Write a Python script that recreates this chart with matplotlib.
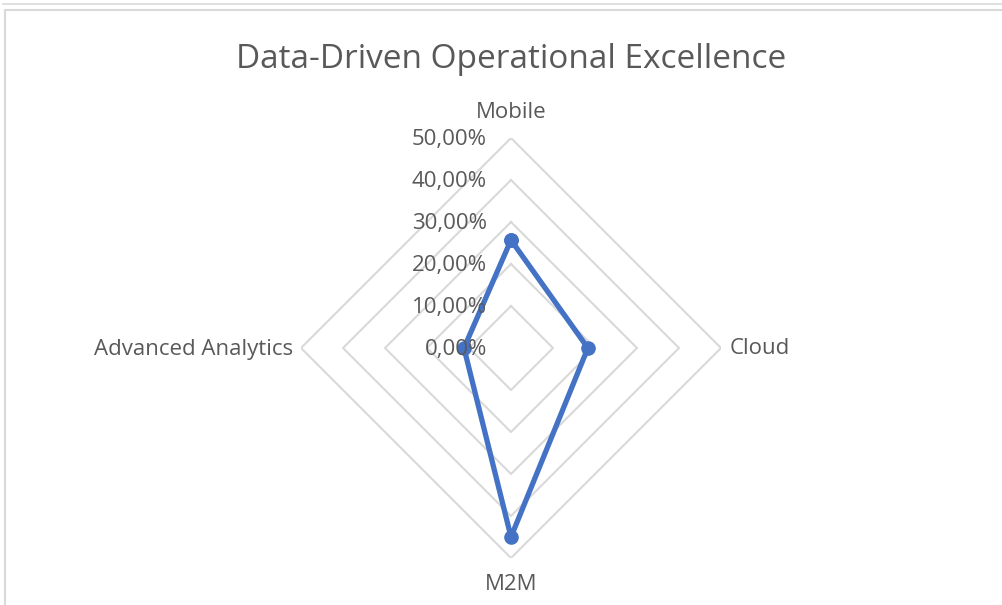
import numpy as np
import matplotlib.pyplot as plt
from matplotlib.patches import Rectangle
from matplotlib.lines import Line2D
import matplotlib.transforms as mtransforms

categories = ["Mobile", "Cloud", "M2M", "Advanced Analytics"]
values = [0.257, 0.183, 0.45, 0.112]
rings = [0.0, 0.1, 0.2, 0.3, 0.4, 0.5]
ring_labels = ["0,00%", "10,00%", "20,00%", "30,00%", "40,00%", "50,00%"]

plt.rcParams['font.family'] = ['Open Sans', 'DejaVu Sans']
text_col = '#595959'
grid_col = '#d9d9d9'
line_col = '#4472C4'

fig = plt.figure(figsize=(10.03, 6.05), dpi=100)
W, H = 1003, 605

# chart area frame
fig.add_artist(Rectangle((5 / W, -0.05), 1.2, 1 - 10 / H + 0.05, transform=fig.transFigure,
                         fill=False, edgecolor=grid_col, linewidth=1.5))
fig.add_artist(Line2D([3 / W, 1.0], [1 - 4 / H, 1 - 4 / H], transform=fig.transFigure,
                      color=grid_col, linewidth=1.2))

cx, cy, R = 511, 348, 210
ax = fig.add_axes([(cx - R) / W, (H - cy - R) / H, 2 * R / W, 2 * R / H], projection='polar')
ax.set_theta_zero_location('N')
ax.set_theta_direction(-1)
ax.set_ylim(0, 0.5)
ax.axis('off')

angles = np.linspace(0, 2 * np.pi, len(categories), endpoint=False)
closed = np.concatenate([angles, angles[:1]])

# diamond grid
for r in rings[1:]:
    ax.plot(closed, [r] * len(closed), color=grid_col, linewidth=1.5, zorder=1)

# series
vals = values + values[:1]
ax.plot(closed, vals, color=line_col, linewidth=3.8, marker='o', markersize=9.5,
        solid_joinstyle='round', zorder=3, clip_on=False)

# value axis labels
for r, lab in zip(rings, ring_labels):
    tr = ax.transData + mtransforms.ScaledTranslation(-24 / 100, -2 / 100, fig.dpi_scale_trans)
    ax.text(0, r, lab, transform=tr, ha='right', va='center', fontsize=16,
            color=text_col, zorder=4)

# category labels
offsets = [(0, 25, 'center', 'center'), (9, -1, 'left', 'center'),
           (0, -27, 'center', 'center'), (-8, -1, 'right', 'center')]
for a, cat, (dx, dy, ha, va) in zip(angles, categories, offsets):
    tr = ax.transData + mtransforms.ScaledTranslation(dx / 100, dy / 100, fig.dpi_scale_trans)
    ax.text(a, 0.5, cat, transform=tr, ha=ha, va=va, fontsize=16, color=text_col)

fig.text(511 / W, 1 - 60 / H, "Data-Driven Operational Excellence", ha='center', va='center',
         fontsize=24, color=text_col)

fig.savefig("out.png", dpi=100)
